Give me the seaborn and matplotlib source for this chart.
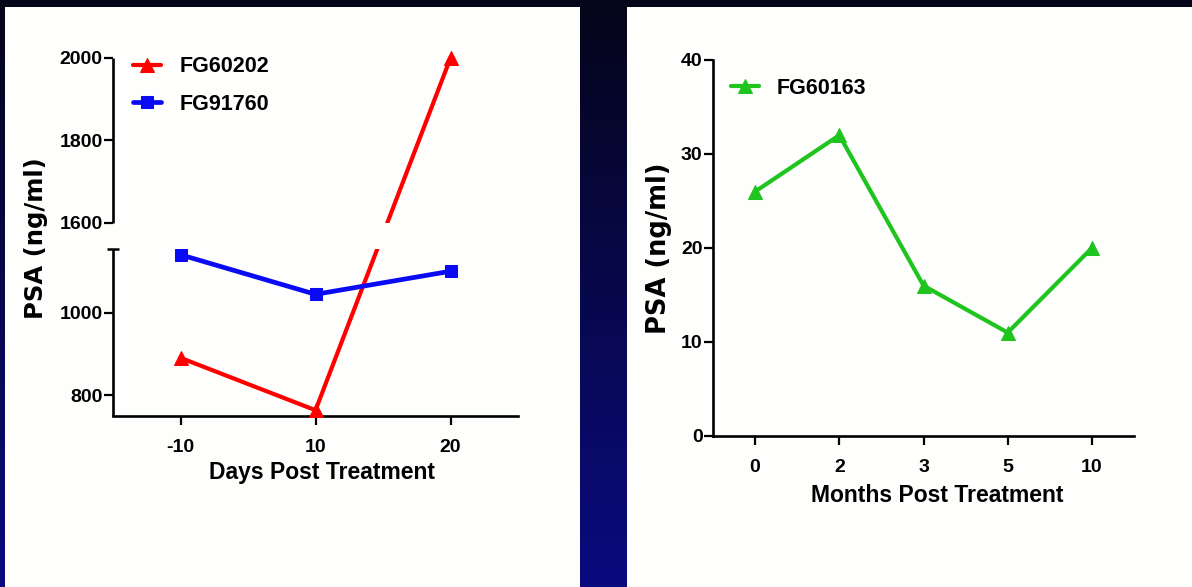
import numpy as np
import pandas as pd
import matplotlib
matplotlib.use("Agg")
import matplotlib.pyplot as plt
from matplotlib.patches import Rectangle
import seaborn as sns

# ---------------- data ----------------
days = ["-10", "10", "20"]
fg60202 = [891, 764, 2000]
fg91760 = [1141, 1045, 1101]

months = ["0", "2", "3", "5", "10"]
fg60163 = [26, 32, 16, 11, 20]

left_yticks = [800, 1000, 1600, 1800, 2000]
right_yticks = [0, 10, 20, 30, 40]

# broken-axis settings (left panel)
Y_MIN, BREAK_LOW, BREAK_HIGH, Y_MAX = 750, 1155, 1600, 2000
GAP = 63  # visual size of the break, in lower-scale units

RED, BLUE, GREEN = "#ff0000", "#0a0af5", "#1fc41f"
PANEL = "#fefefc"

sns.set_theme(style="ticks")
plt.rcParams["font.family"] = ["Liberation Sans", "DejaVu Sans"]
plt.rcParams["font.weight"] = "bold"
plt.rcParams["axes.labelweight"] = "bold"
for k in ["text.color", "axes.labelcolor", "xtick.color", "ytick.color", "axes.edgecolor"]:
    plt.rcParams[k] = "black"

W, H = 1192, 587
fig = plt.figure(figsize=(W / 100, H / 100), dpi=100)

# background gradient + white panels
bg = fig.add_axes([0, 0, 1, 1], zorder=-10)
grad = np.linspace(0, 1, 256)[:, None]
top = np.array([0.02, 0.02, 0.10])
bot = np.array([0.04, 0.04, 0.50])
img = top[None, None, :] * (1 - grad[:, :, None]) + bot[None, None, :] * grad[:, :, None]
bg.imshow(img, aspect="auto", extent=[0, 1, 0, 1], origin="upper")
bg.add_patch(Rectangle((5 / W, 0), 575 / W, 580 / H, transform=bg.transAxes,
                       facecolor=PANEL, edgecolor="none"))
bg.add_patch(Rectangle((627 / W, 0), (W - 627) / W, 580 / H, transform=bg.transAxes,
                       facecolor=PANEL, edgecolor="none"))
bg.set_xlim(0, 1)
bg.set_ylim(0, 1)
bg.axis("off")

TICK_FS = 14
LABEL_FONT = ["Liberation Sans", "DejaVu Sans"]
LEG_FS = 15.5

# ---------------- left panel ----------------
axL = fig.add_axes([113 / W, (H - 416) / H, 405 / W, 358 / H])


def fwd(y):
    y = np.asarray(y, dtype=float)
    lower = y - Y_MIN
    mid = (BREAK_LOW - Y_MIN) + (y - BREAK_LOW) / (BREAK_HIGH - BREAK_LOW) * GAP
    upper = (BREAK_LOW - Y_MIN) + GAP + (y - BREAK_HIGH)
    return np.where(y <= BREAK_LOW, lower, np.where(y >= BREAK_HIGH, upper, mid))


def inv(z):
    z = np.asarray(z, dtype=float)
    a = BREAK_LOW - Y_MIN
    lower = z + Y_MIN
    mid = BREAK_LOW + (z - a) / GAP * (BREAK_HIGH - BREAK_LOW)
    upper = z - a - GAP + BREAK_HIGH
    return np.where(z <= a, lower, np.where(z >= a + GAP, upper, mid))


axL.set_yscale("function", functions=(fwd, inv))

sns.lineplot(x=days, y=fg60202, ax=axL, color=RED, marker="^", markersize=9.5,
             markeredgecolor=RED, linewidth=3.0, label="FG60202", clip_on=False, zorder=3)
sns.lineplot(x=days, y=fg91760, ax=axL, color=BLUE, marker="s", markersize=9,
             markeredgecolor=BLUE, linewidth=3.4, label="FG91760", clip_on=False, zorder=3)

axL.set_ylim(Y_MIN, Y_MAX)
axL.set_xlim(-0.5, 2.5)
axL.set_yticks(left_yticks)
axL.set_yticklabels([str(v) for v in left_yticks])
axL.minorticks_off()

axL.set_facecolor("none")
for s in ["top", "right", "left"]:
    axL.spines[s].set_visible(False)
axL.spines["bottom"].set_linewidth(1.9)
axL.spines["bottom"].set_color("black")
axL.tick_params(axis="both", direction="out", length=6.5, width=1.6, colors="black",
                labelsize=TICK_FS)
axL.tick_params(axis="x", pad=10)
axL.tick_params(axis="y", pad=1)

# gap in the data lines across the break
axL.axhspan(BREAK_LOW, BREAK_HIGH, xmin=0.0, xmax=1.0, facecolor=PANEL,
            edgecolor="none", zorder=4)
# broken y spine
ytr = axL.get_yaxis_transform()
axL.plot([0, 0], [Y_MIN, BREAK_LOW], transform=ytr, color="black", lw=1.9,
         clip_on=False, zorder=6, solid_capstyle="butt")
axL.plot([0, 0], [BREAK_HIGH, Y_MAX], transform=ytr, color="black", lw=1.9,
         clip_on=False, zorder=6, solid_capstyle="butt")
axL.plot([0], [BREAK_LOW], transform=ytr, marker="_", ms=9, mew=1.8, color="black",
         clip_on=False, zorder=6)

axL.set_xlabel("Days Post Treatment", fontsize=16.5, fontweight="bold", family=LABEL_FONT)
axL.xaxis.set_label_coords(0.517, -0.125)
axL.set_ylabel("PSA (ng/ml)", fontsize=17.5, fontweight="bold", family=["DejaVu Sans"])
axL.yaxis.set_label_coords(-0.16, 0.498)

axL.legend(loc="upper left", bbox_to_anchor=(0.049, 1.005), frameon=False,
           borderaxespad=0, borderpad=0, handlelength=1.3, handletextpad=0.85,
           labelspacing=0.78, prop={"family": LABEL_FONT, "weight": "bold", "size": LEG_FS})

# ---------------- right panel ----------------
axR = fig.add_axes([713 / W, (H - 436) / H, 421 / W, 376 / H])
sns.lineplot(x=months, y=fg60163, ax=axR, color=GREEN, marker="^", markersize=9.5,
             markeredgecolor=GREEN, linewidth=3.0, label="FG60163", clip_on=False, zorder=3)
axR.set_ylim(0, 40)
axR.set_xlim(-0.5, 4.5)
axR.set_yticks(right_yticks)
axR.set_yticklabels([str(v) for v in right_yticks])
axR.set_facecolor("none")
for s in ["top", "right"]:
    axR.spines[s].set_visible(False)
for s in ["left", "bottom"]:
    axR.spines[s].set_linewidth(1.9)
    axR.spines[s].set_color("black")
axR.tick_params(axis="both", direction="out", length=6.5, width=1.6, colors="black",
                labelsize=TICK_FS)
axR.tick_params(axis="x", pad=10)
axR.tick_params(axis="y", pad=1)
axR.set_xlabel("Months Post Treatment", fontsize=16.5, fontweight="bold", family=LABEL_FONT)
axR.xaxis.set_label_coords(0.532, -0.128)
axR.set_ylabel("PSA (ng/ml)", fontsize=18.5, fontweight="bold", family=["DejaVu Sans"])
axR.yaxis.set_label_coords(-0.097, 0.50)
axR.legend(loc="upper left", bbox_to_anchor=(0.043, 0.953), frameon=False,
           borderaxespad=0, borderpad=0, handlelength=1.3, handletextpad=0.8,
           prop={"family": LABEL_FONT, "weight": "bold", "size": LEG_FS})

fig.savefig("out.png", dpi=100)
